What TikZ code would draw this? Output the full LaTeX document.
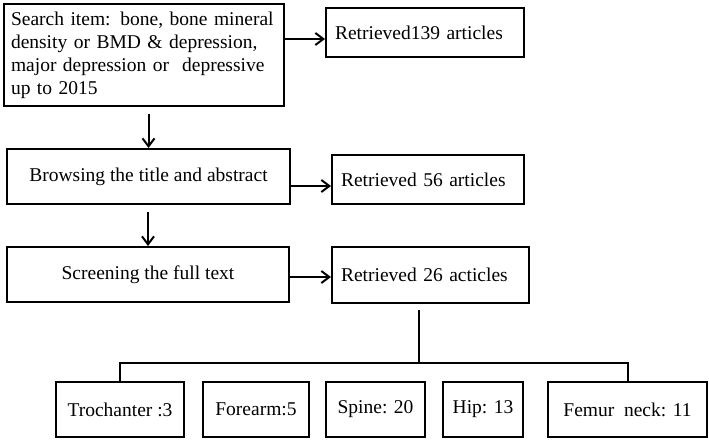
\documentclass[tikz,border=0pt]{standalone}
\usepackage{fontspec}
\setmainfont{Liberation Serif}
\usepackage{tikz}
\usetikzlibrary{arrows.meta}

\begin{document}
\begin{tikzpicture}[x=1pt,y=-1pt]
\tikzstyle{box2}=[rectangle, draw, line width=2pt, minimum height=55pt,
    inner sep=0pt, font=\fontsize{19.5}{23}\selectfont]
\tikzstyle{rbox2}=[box2, align=left, inner xsep=9pt]
\tikzstyle{arr2}=[line width=2pt, -{Straight Barb[length=8pt,width=12pt]}]

\useasboundingbox (0,0) rectangle (709,439);

    \node[box2, align=left, inner xsep=7pt, text width=266pt,
    minimum height=102pt] (b1) at (144,55)
    {Search item: bone, bone mineral\\density or BMD \& depression,\\
    major depression or\ \ depressive\\up to 2015};
 \node[box2, minimum width=283pt] (b2) at (148.5,176.5)
    {Browsing the title and abstract};
 \node[box2, minimum width=282pt] (b3) at (148,274.5)
    {Screening the full text};

    \node[rbox2, text width=180pt, minimum height=49pt] (r1) at (425,32.5)
    {Retrieved139 articles};
 \node[rbox2, text width=174pt, minimum height=49pt] (r2) at (428,179.5)
    {Retrieved 56 articles};
 \node[rbox2, text width=179pt, minimum height=56pt] (r3) at (430.5,275)
    {Retrieved 26 acticles};

    \node[box2, minimum width=128pt] (t1) at (120,409.5) {Trochanter :3};
 \node[box2, minimum width=106pt] (t2) at (256,409.5) {Forearm:5};
 \node[box2, minimum width=99pt] (t3) at (375.5,409.5) {Spine: 20};
 \node[box2, minimum width=80pt] (t4) at (483,409.5) {Hip: 13};
 \node[box2, minimum width=159pt] (t5) at (627.5,409.5) {Femur\ \ neck: 11};

\coordinate (p1) at ([yshift=-6.5pt]r1.west);
\coordinate (p2) at ([yshift=-6.5pt]r2.west);
\coordinate (p3) at ([yshift=-2pt]r3.west);
\coordinate (q1) at ([yshift=-7pt]b1.south);
\coordinate (q2) at ([yshift=-7pt]b2.south);
\coordinate (q3) at ([yshift=-6pt]r3.south);
\coordinate (J) at (419,363);

\draw[arr2] (b1.east |- p1) -- (p1);
\draw[arr2] (b2.east |- p2) -- (p2);
\draw[arr2] (b3.east |- p3) -- (p3);
\draw[arr2] (b2.north |- q1) -- (b2.north);
\draw[arr2] (b3.north |- q2) -- (b3.north);
\draw[line width=2pt] (J |- q3) -- (J);
\draw[line width=2pt] (t1.north) -- (t1.north |- J) -- (t5.north |- J) -- (t5.north);

\end{tikzpicture}
\end{document}
